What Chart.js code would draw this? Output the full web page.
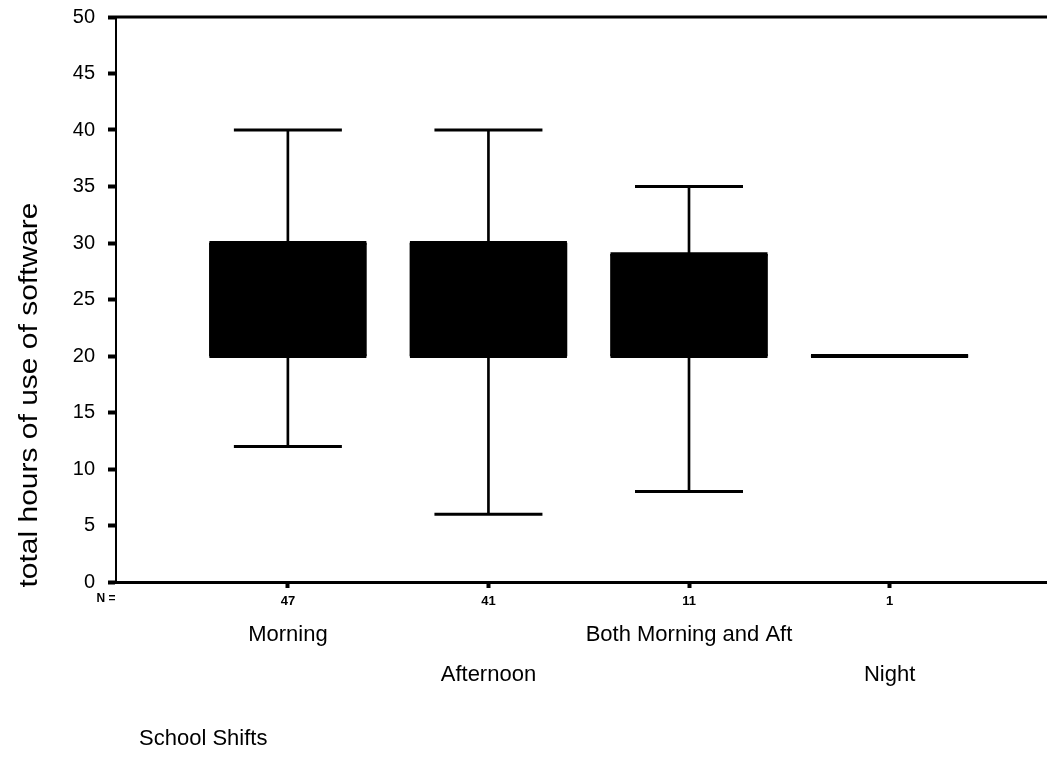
<!DOCTYPE html>
<html><head><meta charset="utf-8">
<script src="https://cdn.jsdelivr.net/npm/chart.js@4/dist/chart.umd.min.js"></script>
<style>html,body{margin:0;padding:0;background:#fff;overflow:hidden}#wrap{width:1047px;height:758px;position:relative}canvas{display:block}</style>
</head><body><div id="wrap"><canvas id="c" width="1047" height="758" style="width:1047px;height:758px"></canvas></div>
<script>
// ---- data ----
const categories = ["Morning", "Afternoon", "Both Morning and Aft", "Night"];
const counts = [47, 41, 11, 1];
const whiskerLow = [12, 6, 8, 20];
const q1 = [20, 20, 20, 20];
const q3 = [30, 30, 29, 20];
const whiskerHigh = [40, 40, 35, 20];
const yTicks = [0, 5, 10, 15, 20, 25, 30, 35, 40, 45, 50];
const labelRow = [0, 1, 0, 1];
const yTitle = "total hours of use of software";
const xTitle = "School Shifts";
const nLabel = "N =";

const FONT = "'Liberation Sans', Arial, Helvetica, sans-serif";

const idx = categories.map((c, i) => i);

const labelsPlugin = {
  id: 'labelsPlugin',
  afterDraw(chart) {
    const ctx = chart.ctx;
    const xs = chart.scales.x;
    const area = chart.chartArea;
    ctx.save();
    // top frame line
    ctx.strokeStyle = '#000';
    ctx.lineWidth = 3;
    ctx.beginPath();
    ctx.moveTo(area.left - 1, area.top);
    ctx.lineTo(area.right, area.top);
    ctx.stroke();
    // category labels
    ctx.fillStyle = '#000';
    ctx.font = '22px ' + FONT;
    ctx.textAlign = 'center';
    ctx.textBaseline = 'middle';
    categories.forEach((c, i) => {
      const x = xs.getPixelForValue(i);
      const y = area.bottom + (labelRow[i] === 0 ? 53 : 93);
      ctx.fillText(c, x, y);
    });
    // N = label
    ctx.font = 'bold 12px ' + FONT;
    ctx.fillText(nLabel, area.left - 10, area.bottom + 17);
    // x title
    ctx.font = '22px ' + FONT;
    ctx.textAlign = 'left';
    ctx.fillText(xTitle, 139, 739);
    // y title (rotated)
    ctx.translate(30, 395);
    ctx.rotate(-Math.PI / 2);
    ctx.font = '26px ' + FONT;
    ctx.textAlign = 'center';
    const w = ctx.measureText(yTitle).width;
    ctx.scale(385 / w, 1);
    ctx.fillText(yTitle, 0, 0);
    ctx.restore();
  }
};

const chart = new Chart(document.getElementById('c'), {
  type: 'bar',
  data: {
    datasets: [
      {
        type: 'scatter',
        label: 'box edges',
        data: idx.flatMap(i => [{x: i, y: q1[i]}, {x: i, y: q3[i]}]),
        pointStyle: 'line',
        radius: 78.5,
        borderWidth: 4,
        borderColor: '#000',
        backgroundColor: '#000',
        clip: false,
        order: 0
      },
      {
        type: 'scatter',
        label: 'caps',
        data: idx.flatMap(i => [{x: i, y: whiskerLow[i]}, {x: i, y: whiskerHigh[i]}]),
        pointStyle: 'line',
        radius: 54,
        borderWidth: 3,
        borderColor: '#000',
        backgroundColor: '#000',
        clip: false,
        order: 1
      },
      {
        label: 'box',
        data: idx.map(i => ({x: i, y: [q1[i], q3[i]]})),
        backgroundColor: '#000',
        barThickness: 157,
        grouped: false,
        order: 2
      },
      {
        label: 'whisker',
        data: idx.map(i => ({x: i, y: [whiskerLow[i], whiskerHigh[i]]})),
        backgroundColor: '#000',
        barThickness: 2,
        grouped: false,
        order: 3
      }
    ]
  },
  options: {
    responsive: false,
    maintainAspectRatio: false,
    animation: false,
    devicePixelRatio: 1,
    layout: {padding: {top: 17, right: 0, bottom: 0, left: 0}},
    plugins: {legend: {display: false}, tooltip: {enabled: false}},
    scales: {
      x: {
        type: 'linear',
        offset: false,
        min: -0.857,
        max: 3.785,
        afterBuildTicks: s => { s.ticks = idx.map(v => ({value: v})); },
        afterFit: s => { s.height = 176; s.paddingLeft = 0; s.paddingRight = 0; },
        ticks: {
          callback: v => String(counts[v]),
          font: {family: FONT, size: 13, weight: 'bold'},
          color: '#000',
          padding: 6,
          maxRotation: 0,
          autoSkip: false
        },
        grid: {display: true, offset: false, drawOnChartArea: false, drawTicks: true, tickLength: 6, tickWidth: 4, tickColor: '#000'},
        border: {display: true, color: '#000', width: 3}
      },
      y: {
        type: 'linear',
        min: 0,
        max: 50,
        afterBuildTicks: s => { s.ticks = yTicks.map(v => ({value: v})); },
        afterFit: s => { s.width = 116; s.paddingTop = 0; s.paddingBottom = 0; },
        ticks: {
          font: {family: FONT, size: 20},
          color: '#000',
          padding: 13
        },
        grid: {display: true, drawOnChartArea: false, drawTicks: true, tickLength: 8, tickWidth: 4, tickColor: '#000'},
        border: {display: true, color: '#000', width: 2}
      }
    }
  },
  plugins: [labelsPlugin]
});
// the line-shaped markers must not reserve extra padding around the plot area
chart.data.datasets.forEach((d, i) => {
  const meta = chart.getDatasetMeta(i);
  if (meta.controller && d.type === 'scatter') meta.controller.getMaxOverflow = () => 0;
});
chart.update();
</script>
</body></html>
